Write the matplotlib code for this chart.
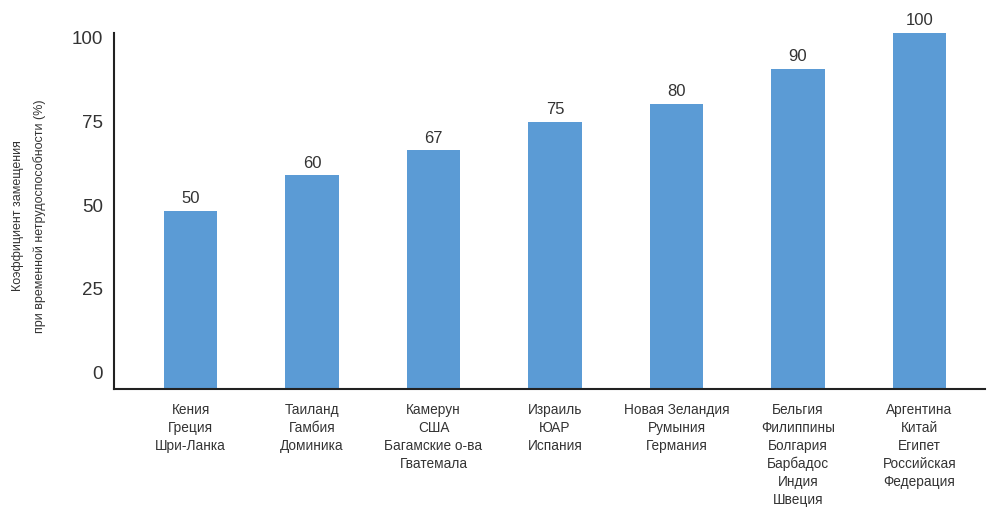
import matplotlib
matplotlib.use("Agg")
import matplotlib.pyplot as plt

categories = [
    "Кения\nГреция\nШри-Ланка",
    "Таиланд\nГамбия\nДоминика",
    "Камерун\nСША\nБагамские о-ва\nГватемала",
    "Израиль\nЮАР\nИспания",
    "Новая Зеландия\nРумыния\nГермания",
    "Бельгия\nФилиппины\nБолгария\nБарбадос\nИндия\nШвеция",
    "Аргентина\nКитай\nЕгипет\nРоссийская\nФедерация",
]
values = [50, 60, 67, 75, 80, 90, 100]
ytick_values = [0, 25, 50, 75, 100]
ylabel = "Коэффициент замещения\nпри временной нетрудоспособности (%)"

bar_color = "#5B9BD5"
text_color = "#333333"
font = "Liberation Sans"

fig = plt.figure(figsize=(9.89, 5.08), dpi=100)
ax = fig.add_axes([0.1153, 0.2343, 0.8807, 0.7007])
x = list(range(len(values)))
ax.bar(x, values, width=0.44, color=bar_color, clip_on=False)
for xi, v in zip(x, values):
    ax.annotate(str(v), (xi, v), xytext=(0, 3.5), textcoords="offset points",
                ha="center", va="bottom", fontsize=12, color=text_color,
                family=font, annotation_clip=False)

ax.set_xlim(-0.63, 6.54)
ax.set_ylim(0, 100)
ax.set_xticks(x)
ax.set_xticklabels(categories, fontsize=9.8, family=font, color=text_color,
                   linespacing=1.36, va="top")
ax.tick_params(axis="x", length=0, pad=10)
ax.set_yticks([])
for s in ["top", "right"]:
    ax.spines[s].set_visible(False)
for s in ["left", "bottom"]:
    ax.spines[s].set_linewidth(1.5)
    ax.spines[s].set_color("#222222")

# tick labels sit on a slightly different scale than the bars in the reference
sec = ax.secondary_yaxis("left", functions=(lambda v: (v - 4.494) / 0.9438,
                                            lambda L: 4.494 + 0.9438 * L))
sec.set_yticks(ytick_values)
sec.set_yticklabels([str(t) for t in ytick_values], fontsize=13.5,
                    family=font, color=text_color)
sec.tick_params(length=0, pad=8)
sec.spines["left"].set_visible(False)

fig.text(0.0293, 0.575, ylabel, rotation=90, ha="center", va="center",
         fontsize=9, family=font, color=text_color, linespacing=2.0,
         multialignment="center")

fig.savefig("out.png", dpi=100)
